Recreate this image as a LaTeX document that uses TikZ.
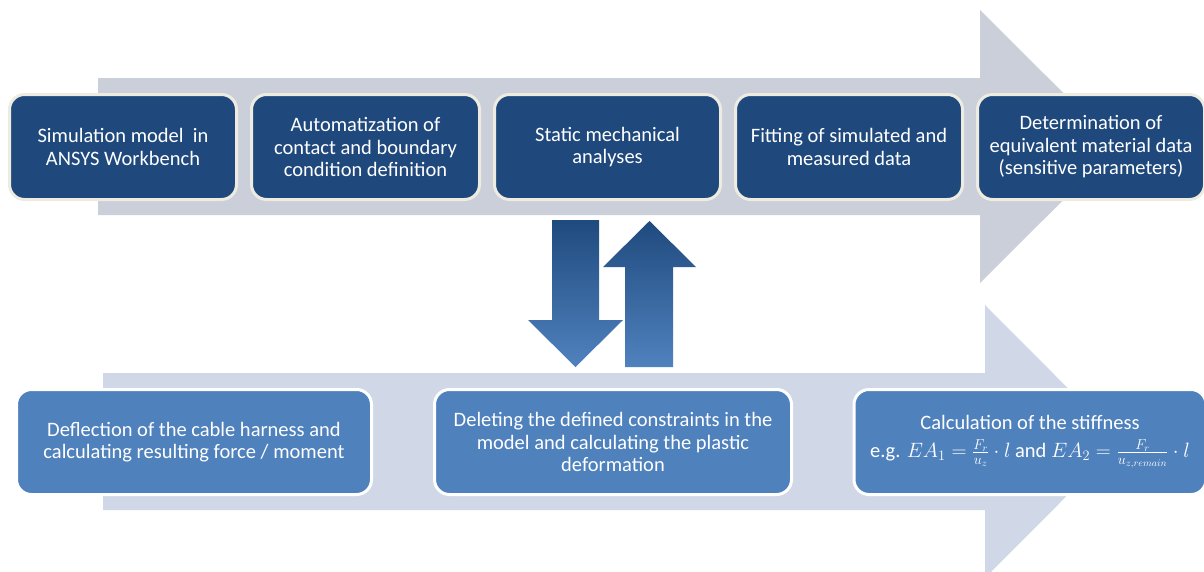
\documentclass[tikz,border=0pt]{standalone}
\usepackage{fontspec}
\setmainfont{Carlito}
\definecolor{arrowtop}{RGB}{203,207,218}
\definecolor{arrowbot}{RGB}{208,216,232}
\definecolor{darkbox}{RGB}{31,73,125}
\definecolor{cream}{RGB}{238,236,224}
\definecolor{lightbox}{RGB}{79,129,189}
\definecolor{gradtop}{RGB}{31,74,126}
\definecolor{gradbot}{RGB}{80,130,190}
\tikzset{
  topbox/.style={draw=cream, line width=3pt, fill=darkbox, rounded corners=15pt,
    text=white, align=center, minimum height=105pt, inner sep=2pt,
    font=\fontsize{20.5}{22.5}\selectfont},
  botbox/.style={draw=white, line width=3pt, fill=lightbox, rounded corners=15pt,
    text=white, align=center, minimum height=105pt, inner sep=2pt,
    font=\fontsize{20.5}{22.5}\selectfont},
  bigarrowA/.style={fill=arrowtop},
  bigarrowB/.style={fill=arrowbot},
  vertarrow/.style={top color=gradtop, bottom color=gradbot}
}
\begin{document}
\begin{tikzpicture}[x=1pt,y=-1pt]
\useasboundingbox (0,0) rectangle (1204,571);
% big process arrows
\fill[bigarrowA] (98,78) -- (980,78) -- (980,10) -- (1117,146.5) -- (980,283) -- (980,215) -- (98,215) -- cycle;
\fill[bigarrowB] (103,373) -- (985,373) -- (985,305) -- (1121,441.5) -- (985,578) -- (985,510) -- (103,510) -- cycle;
% vertical arrows
\shade[vertarrow] (552,220) -- (599,220) -- (599,320) -- (623,320) -- (575.5,367) -- (528,320) -- (552,320) -- cycle;
\shade[vertarrow] (625,367) -- (673,367) -- (673,267) -- (696,267) -- (649.5,221) -- (603,267) -- (625,267) -- cycle;
% top row
\node[topbox, minimum width=227pt] (t1) at (123,147) {Simulation model\ \ in\\ANSYS Workbench};
\node[topbox, minimum width=228pt] (t2) at (365.5,147) {Automatization of\\contact and boundary\\condition definition};
\node[topbox, minimum width=226pt] (t3) at (607.5,147) {Static mechanical\\analyses};
\node[topbox, minimum width=227pt] (t4) at (849,147) {Fitting of simulated and\\measured data};
\node[topbox, minimum width=227pt] (t5) at (1091,147) {Determination of\\equivalent material data\\(sensitive parameters)};
% bottom row
\node[botbox, minimum width=355pt] (b1) at (194,442) {Deflection of the cable harness and\\calculating resulting force / moment};
\node[botbox, minimum width=357pt] (b2) at (613,442) {Deleting the defined constraints in the\\model and calculating the plastic\\deformation};
\node[botbox, minimum width=352pt] (b3) at (1030,442) {Calculation of the stiffness\\[5pt]e.g. $EA_1=\frac{F_r}{u_z}\cdot l$ and $EA_2=\frac{F_r}{u_{z,remain}}\cdot l$};
\end{tikzpicture}
\end{document}
